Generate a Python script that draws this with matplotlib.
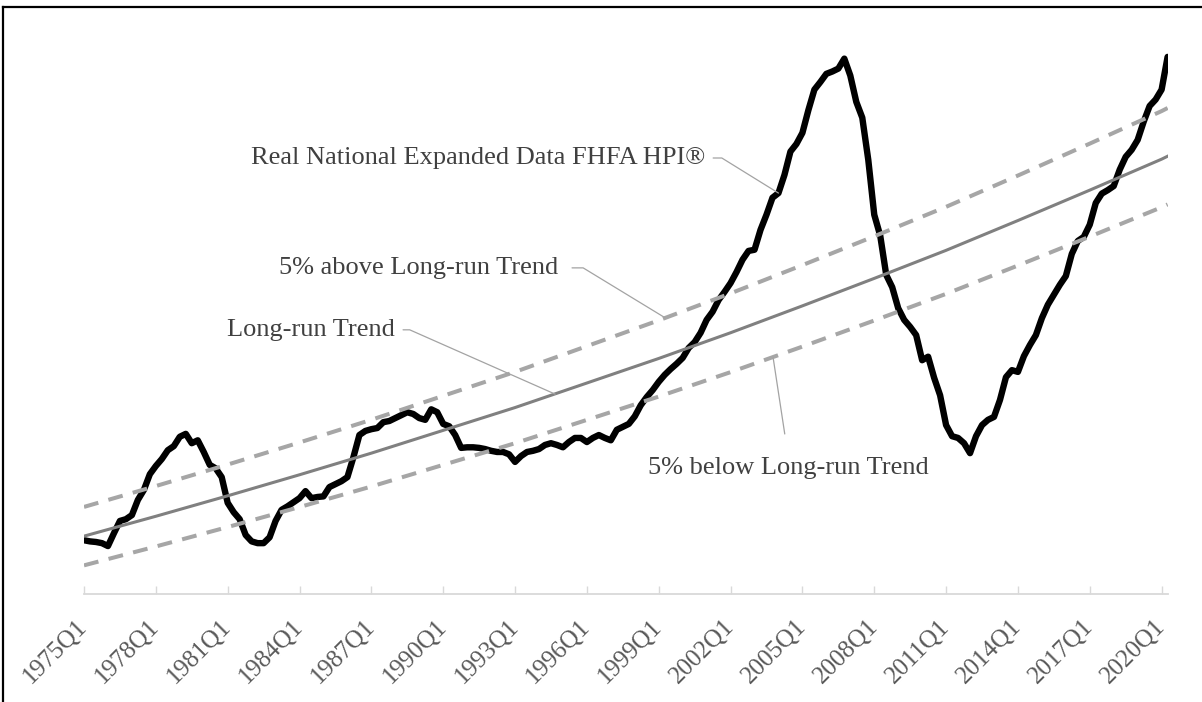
#!/usr/bin/env python3
"""Real national FHFA HPI vs long-run trend, with +/-5% bands."""
import matplotlib
matplotlib.use('Agg')
import matplotlib.pyplot as plt
from matplotlib.lines import Line2D

# --- data (quarterly, 1975Q1 .. 2020Q2) ---
hpi = [
    99.3, 99.1, 99.0, 98.8, 98.3, 100.5, 102.6, 102.9, 103.6, 106.2,
    107.9, 110.6, 112.0, 113.2, 114.7, 115.4, 117.0, 117.5, 115.9, 116.4,
    114.4, 112.2, 111.6, 110.1, 105.7, 104.1, 102.9, 100.2, 99.1, 98.8,
    98.8, 99.8, 102.6, 104.5, 105.1, 105.8, 106.5, 107.7, 106.5, 106.7,
    106.8, 108.4, 108.9, 109.4, 110.1, 113.5, 117.3, 118.0, 118.3, 118.5,
    119.5, 119.7, 120.2, 120.7, 121.2, 120.9, 120.2, 119.9, 121.7, 121.2,
    119.2, 118.8, 117.3, 115.1, 115.2, 115.2, 115.1, 114.9, 114.6, 114.4,
    114.4, 114.0, 112.7, 113.7, 114.4, 114.6, 114.9, 115.6, 115.9, 115.6,
    115.2, 116.1, 116.8, 116.8, 116.1, 116.8, 117.3, 116.8, 116.4, 118.2,
    118.7, 119.2, 120.5, 122.4, 123.8, 125.0, 126.4, 127.6, 128.6, 129.5,
    130.5, 132.2, 133.2, 134.8, 137.0, 138.4, 140.4, 141.8, 143.3, 145.2,
    147.3, 148.8, 149.0, 152.4, 155.0, 157.9, 158.7, 161.8, 165.8, 167.1,
    169.0, 172.9, 176.4, 177.7, 179.1, 179.5, 180.0, 181.7, 178.8, 174.3,
    171.6, 164.4, 155.0, 151.4, 144.7, 142.6, 139.0, 137.0, 135.8, 134.4,
    130.1, 130.7, 127.1, 124.1, 119.0, 117.1, 116.8, 115.9, 114.2, 117.1,
    119.0, 119.9, 120.4, 123.3, 127.2, 128.4, 128.1, 130.8, 132.7, 134.4,
    137.3, 139.6, 141.3, 143.0, 144.5, 148.3, 150.5, 151.2, 153.3, 157.0,
    158.6, 159.2, 159.9, 162.7, 164.9, 166.1, 167.8, 170.9, 173.6, 174.7,
    176.4, 182.0,
]
quarter_idx = list(range(len(hpi)))

# long-run trend read at every 12th quarter
trend_q = [0, 12, 24, 36, 48, 60, 72, 84, 96, 108, 120, 132, 144, 156, 168, 180, 181]
trend = [100.0, 103.4, 106.9, 110.5, 114.2, 118.1, 122.0, 126.2, 130.4, 134.8,
         139.4, 144.1, 148.9, 154.0, 159.2, 164.5, 165.0]
upper = [v * 1.05 for v in trend]
lower = [v * 0.95 for v in trend]

tick_pos = list(range(0, 181, 12))
tick_labels = ['1975Q1', '1978Q1', '1981Q1', '1984Q1', '1987Q1', '1990Q1',
               '1993Q1', '1996Q1', '1999Q1', '2002Q1', '2005Q1', '2008Q1',
               '2011Q1', '2014Q1', '2017Q1', '2020Q1']

plt.rcParams['font.family'] = ['Liberation Serif', 'DejaVu Serif']
TXT = '#404040'
LEAD = '#a3a3a3'

fig = plt.figure(figsize=(12.02, 7.02), dpi=100)
ax = fig.add_axes([84 / 1202, 1 - 594 / 702, 1083.6 / 1202, 564 / 702])

ax.plot(quarter_idx, hpi, color='black', lw=4.6, solid_joinstyle='round',
        solid_capstyle='round', zorder=2)
ax.plot(trend_q, trend, color='#808080', lw=2.2, zorder=3)
dash = (0, (3.7, 2.6))
ax.plot(trend_q, upper, color='#a6a6a6', lw=2.9, ls=dash, zorder=3)
ax.plot(trend_q, lower, color='#a6a6a6', lw=2.9, ls=dash, zorder=3)

ax.set_xlim(0, 181)
ax.set_ylim(90.1, 186.6)

for s in ['left', 'right', 'top']:
    ax.spines[s].set_visible(False)
ax.spines['bottom'].set_color('#d9d9d9')
ax.spines['bottom'].set_linewidth(1.3)
ax.set_yticks([])
ax.set_xticks(tick_pos)
ax.set_xticklabels(tick_labels, rotation=45, ha='right', va='center',
                   rotation_mode='anchor', fontsize=18, color='#595959')
ax.tick_params(axis='x', direction='in', length=6, width=1, color='#d9d9d9', pad=21)

# --- annotations ---
lead = dict(arrowstyle='-', color=LEAD, lw=0.9, relpos=(1, 0.5), shrinkB=0)
ax.annotate('Real National Expanded Data FHFA HPI®', xy=(116, hpi[116]),
            xytext=(103.7, 164.7), ha='right', va='center', fontsize=19, color=TXT,
            arrowprops=dict(lead, connectionstyle='arc,angleA=0,armA=17,rad=0', shrinkA=4))
ax.annotate('5% above Long-run Trend', xy=(97, 137.4),
            xytext=(79.2, 145.9), ha='right', va='center', fontsize=19, color=TXT,
            arrowprops=dict(lead, connectionstyle='arc,angleA=0,armA=25,rad=0', shrinkA=8))
ax.annotate('Long-run Trend', xy=(78.7, 124.3),
            xytext=(51.9, 135.3), ha='right', va='center', fontsize=19, color=TXT,
            arrowprops=dict(lead, connectionstyle='arc,angleA=0,armA=15,rad=0', shrinkA=4))
ax.annotate('5% below Long-run Trend', xy=(115.1, 130.6),
            xytext=(94.2, 111.6), ha='left', va='center', fontsize=19, color=TXT,
            arrowprops=dict(arrowstyle='-', color=LEAD, lw=0.9, relpos=(0.5, 1),
                            shrinkA=15, shrinkB=0))

# frame around the chart (left and top edges visible)
fig.add_artist(Line2D([2.5 / 1202, 2.5 / 1202], [0, 1 - 7 / 702], color='black', lw=1.6,
                      transform=fig.transFigure))
fig.add_artist(Line2D([2.5 / 1202, 1], [1 - 7 / 702, 1 - 7 / 702], color='black', lw=1.6,
                      transform=fig.transFigure))

fig.savefig('out.png', dpi=100)
plt.close(fig)
print("saved out.png")
